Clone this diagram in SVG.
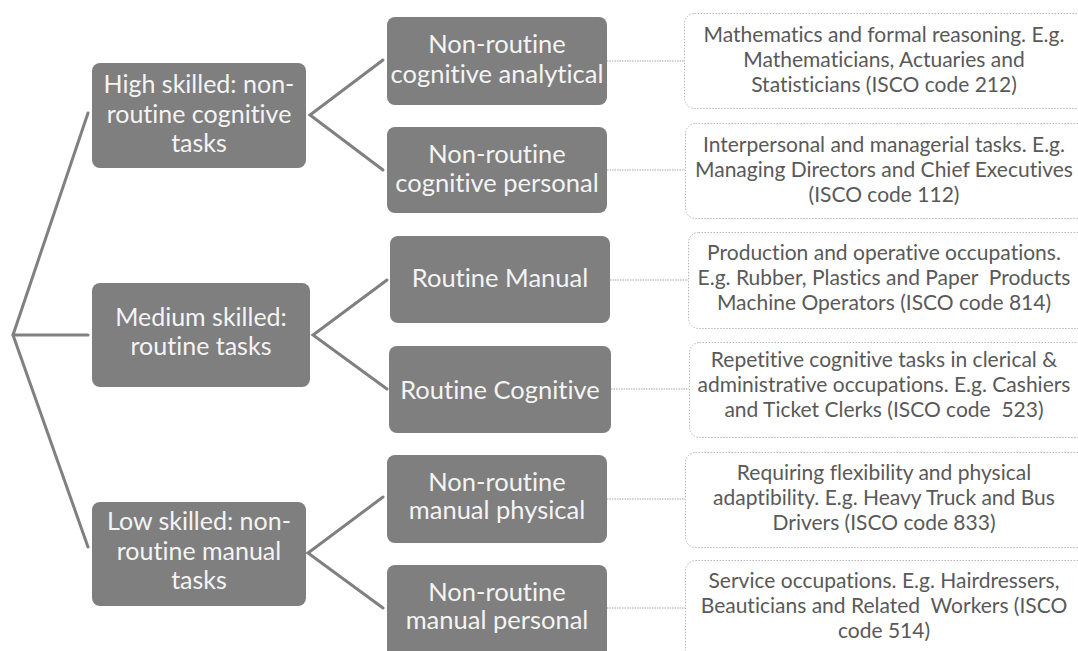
<svg xmlns="http://www.w3.org/2000/svg" width="1078" height="651" viewBox="0 0 1078 651">
<style>
text{font-variant-ligatures:none;}
.box{fill:#7f7f7f;}
.lbl{fill:#f4f4f4;font-family:Lato,"Open Sans",sans-serif;text-anchor:middle;}
.big{font-size:25px;}
.mid{font-size:25.5px;}
.desc{fill:#ffffff;stroke:#b8b8b8;stroke-width:1;stroke-dasharray:1.5 1.5;}
.dt{fill:#595959;font-family:Lato,"Open Sans",sans-serif;font-size:21px;text-anchor:middle;}
.thick{stroke:#808080;stroke-width:3;fill:none;stroke-linecap:round;}
.thin{stroke:#a6a6a6;stroke-width:1;stroke-dasharray:1.5 1;fill:none;}
</style>
<rect width="1078" height="651" fill="#ffffff"/>
<g id="connectors">
<polyline class="thick" points="88,113 13,335 88,547"/>
<line class="thick" x1="13" y1="335" x2="88" y2="335"/>
<polyline class="thick" points="383,60 310,115 383,170"/>
<polyline class="thick" points="387,280 313,335 387,389"/>
<polyline class="thick" points="383,497 308,553 383,608"/>
<line class="thin" x1="607" y1="61" x2="685" y2="61"/>
<line class="thin" x1="607" y1="170" x2="685" y2="170"/>
<line class="thin" x1="610" y1="280" x2="688" y2="280"/>
<line class="thin" x1="611" y1="389" x2="689" y2="389"/>
<line class="thin" x1="607" y1="499" x2="685" y2="499"/>
<line class="thin" x1="607" y1="608" x2="685" y2="608"/>
</g>
<g id="high">
<rect class="box" x="92" y="63" width="214" height="105" rx="8"/>
<text class="lbl big"><tspan x="199" y="93">High skilled: non-</tspan><tspan x="199" y="123">routine cognitive</tspan><tspan x="199" y="152">tasks</tspan></text>
</g>
<g id="medium">
<rect class="box" x="92" y="283" width="218" height="104" rx="8"/>
<text class="lbl big"><tspan x="201" y="326">Medium skilled:</tspan><tspan x="201" y="355">routine tasks</tspan></text>
</g>
<g id="low">
<rect class="box" x="92" y="502" width="214" height="104" rx="8"/>
<text class="lbl big"><tspan x="199" y="530">Low skilled: non-</tspan><tspan x="199" y="560">routine manual</tspan><tspan x="199" y="589">tasks</tspan></text>
</g>
<g id="nr-cog-analytical">
<rect class="box" x="387" y="17" width="220" height="88" rx="8"/>
<text class="lbl mid"><tspan x="497" y="53">Non-routine</tspan><tspan x="497" y="83">cognitive analytical</tspan></text>
</g>
<g id="nr-cog-personal">
<rect class="box" x="387" y="127" width="220" height="86" rx="8"/>
<text class="lbl mid"><tspan x="497" y="163">Non-routine</tspan><tspan x="497" y="192">cognitive personal</tspan></text>
</g>
<g id="routine-manual">
<rect class="box" x="390" y="236" width="220" height="87" rx="8"/>
<text class="lbl mid" x="500" y="287">Routine Manual</text>
</g>
<g id="routine-cognitive">
<rect class="box" x="389" y="346" width="222" height="87" rx="8"/>
<text class="lbl mid" x="500" y="399">Routine Cognitive</text>
</g>
<g id="nr-man-physical">
<rect class="box" x="387" y="455" width="220" height="88" rx="8"/>
<text class="lbl mid"><tspan x="497" y="491">Non-routine</tspan><tspan x="497" y="519">manual physical</tspan></text>
</g>
<g id="nr-man-personal">
<rect class="box" x="387" y="565" width="220" height="95" rx="8"/>
<text class="lbl mid"><tspan x="497" y="601">Non-routine</tspan><tspan x="497" y="629">manual personal</tspan></text>
</g>
<g id="desc-212">
<rect class="desc" x="684.5" y="13.5" width="410" height="95" rx="10"/>
<text class="dt"><tspan x="884" y="42">Mathematics and formal reasoning. E.g.</tspan><tspan x="884" y="67">Mathematicians, Actuaries and</tspan><tspan x="884" y="92">Statisticians (ISCO code 212)</tspan></text>
</g>
<g id="desc-112">
<rect class="desc" x="685.5" y="123.5" width="410" height="95" rx="10"/>
<text class="dt"><tspan x="884" y="152">Interpersonal and managerial tasks. E.g.</tspan><tspan x="884" y="177">Managing Directors and Chief Executives</tspan><tspan x="884" y="202">(ISCO code 112)</tspan></text>
</g>
<g id="desc-814">
<rect class="desc" x="688.5" y="232.5" width="410" height="96" rx="10"/>
<text class="dt" xml:space="preserve"><tspan x="884" y="260">Production and operative occupations.</tspan><tspan x="884" y="285">E.g. Rubber, Plastics and Paper  Products</tspan><tspan x="884" y="310">Machine Operators (ISCO code 814)</tspan></text>
</g>
<g id="desc-523">
<rect class="desc" x="689.5" y="342.5" width="410" height="95" rx="10"/>
<text class="dt" xml:space="preserve"><tspan x="884" y="367">Repetitive cognitive tasks in clerical &amp;</tspan><tspan x="884" y="392">administrative occupations. E.g. Cashiers</tspan><tspan x="884" y="417">and Ticket Clerks (ISCO code  523)</tspan></text>
</g>
<g id="desc-833">
<rect class="desc" x="685.5" y="452.5" width="410" height="95" rx="10"/>
<text class="dt"><tspan x="884" y="480">Requiring flexibility and physical</tspan><tspan x="884" y="505">adaptibility. E.g. Heavy Truck and Bus</tspan><tspan x="884" y="530">Drivers (ISCO code 833)</tspan></text>
</g>
<g id="desc-514">
<rect class="desc" x="685.5" y="560.5" width="410" height="100" rx="10"/>
<text class="dt" xml:space="preserve"><tspan x="884" y="588">Service occupations. E.g. Hairdressers,</tspan><tspan x="884" y="613">Beauticians and Related  Workers (ISCO</tspan><tspan x="884" y="638">code 514)</tspan></text>
</g>
</svg>
